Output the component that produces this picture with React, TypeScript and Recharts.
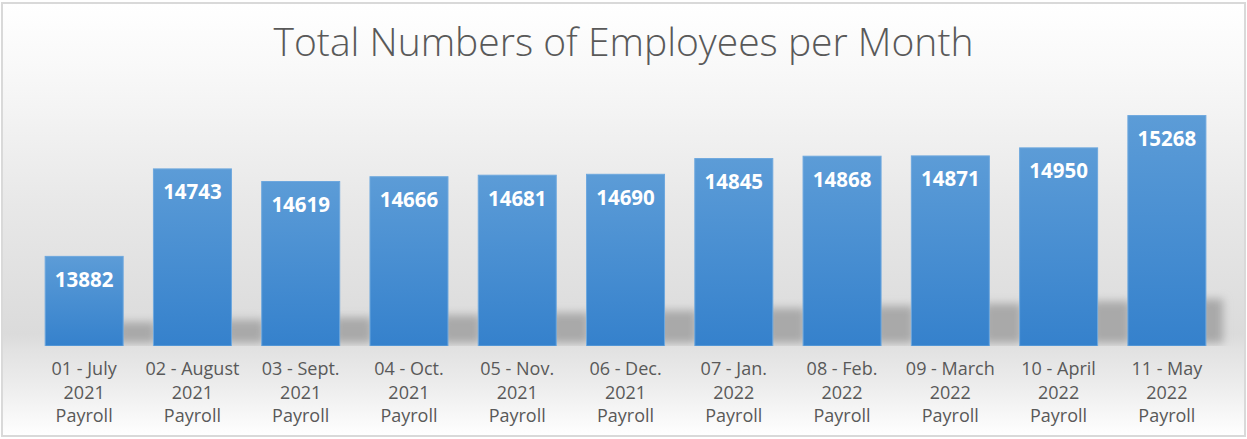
import React from 'react';
import { BarChart, Bar, XAxis, YAxis, LabelList } from 'recharts';

const monthLabels = [
  '01 - July', '02 - August', '03 - Sept.', '04 - Oct.', '05 - Nov.', '06 - Dec.',
  '07 - Jan.', '08 - Feb.', '09 - March', '10 - April', '11 - May',
];
const yearLabels = ['2021', '2021', '2021', '2021', '2021', '2021', '2022', '2022', '2022', '2022', '2022'];
const employees = [13882, 14743, 14619, 14666, 14681, 14690, 14845, 14868, 14871, 14950, 15268];

const chartData = monthLabels.map((month, i) => ({ month, year: yearLabels[i], value: employees[i] }));

const FONT = '"Open Sans", "Noto Sans", sans-serif';
const TEXT_GREY = '#595959';

// bar with the soft "floor" shadow Excel draws to its right
const ShadowBar = (props: any) => {
  const { x, y, width, height, index } = props;
  const base = y + height;
  const h = 24 + index * 2.3;
  const isLast = index === chartData.length - 1;
  const reach = isLast ? width * 0.22 : width * 0.42;
  return (
    <g>
      <rect
        x={x + width - 6}
        y={base - h}
        width={reach + 6}
        height={h - 3}
        fill="#a9a9a9"
        filter="url(#floorBlur)"
      />
      <rect x={x} y={y} width={width} height={height} fill="url(#barFill)" stroke="#6ea8de" strokeWidth={1} />
    </g>
  );
};

const MonthTick = (props: any) => {
  const { x, y, payload, index } = props;
  const i = payload?.index ?? index;
  return (
    <text x={x} y={y} textAnchor="middle" fill={TEXT_GREY} fontFamily={FONT} fontSize={18}>
      <tspan x={x} y={y + 29}>{payload.value}</tspan>
      <tspan x={x} y={y + 53}>{yearLabels[i]}</tspan>
      <tspan x={x} y={y + 76}>Payroll</tspan>
    </text>
  );
};

export default function App() {
  return (
    <div style={{ position: 'absolute', left: 0, top: 0, width: 1247, height: 439, background: '#fff' }}>
      <div
        style={{
          position: 'absolute',
          left: 1,
          top: 2,
          width: 1245,
          height: 435,
          boxSizing: 'border-box',
          border: '2px solid #d9d9d9',
          background:
            'linear-gradient(to bottom, #ffffff 0px, #f9f9f9 60px, #e8e8e8 200px, #dbdbdb 330px, #e2e2e2 346px, #ececec 380px, #ffffff 432px)',
        }}
      />
      <div
        style={{
          position: 'absolute',
          left: 0,
          top: 21,
          width: 1247,
          textAlign: 'center',
          fontFamily: FONT,
          fontSize: 39,
          fontWeight: 350,
          lineHeight: 1,
          color: TEXT_GREY,
        }}
      >
        Total Numbers of Employees per Month
      </div>
      <div style={{ position: 'absolute', left: 0, top: 0 }}>
        <BarChart
          width={1247}
          height={439}
          data={chartData}
          margin={{ top: 92, right: 26, bottom: 13, left: 30 }}
          barCategoryGap="14%"
        >
          <defs>
            <linearGradient id="barFill" x1="0" y1="0" x2="0" y2="1">
              <stop offset="0%" stopColor="#5c9cd7" />
              <stop offset="100%" stopColor="#3581cc" />
            </linearGradient>
            <filter id="floorBlur" x="-50%" y="-50%" width="200%" height="200%">
              <feGaussianBlur stdDeviation="4" />
            </filter>
          </defs>
          <XAxis
            dataKey="month"
            axisLine={false}
            tickLine={false}
            tickSize={0}
            tickMargin={0}
            height={80}
            interval={0}
            tick={<MonthTick />}
          />
          <YAxis hide domain={[13000, 15500]} allowDataOverflow />
          <Bar dataKey="value" shape={<ShadowBar />} isAnimationActive={false}>
            <LabelList
              dataKey="value"
              position="insideTop"
              offset={16}
              fill="#ffffff"
              fontFamily={FONT}
              fontSize={20.5}
              fontWeight="bold"
            />
          </Bar>
        </BarChart>
      </div>
    </div>
  );
}
